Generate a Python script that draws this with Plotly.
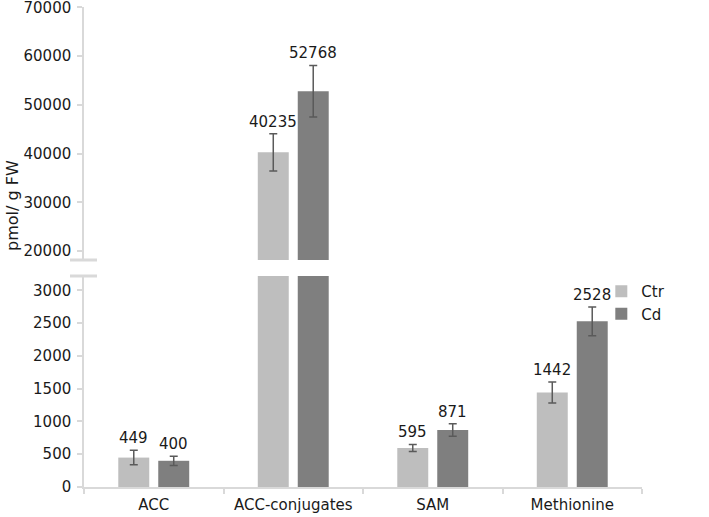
import plotly.graph_objects as go

categories = ["ACC", "ACC-conjugates", "SAM", "Methionine"]
ctr_values = [449, 40235, 595, 1442]
cd_values = [400, 52768, 871, 2528]
ctr_err = [110, 3800, 55, 160]
cd_err = [70, 5300, 95, 220]
series_names = ["Ctr", "Cd"]
lower_ticks = [0, 500, 1000, 1500, 2000, 2500, 3000]
upper_ticks = [20000, 30000, 40000, 50000, 60000, 70000]
upper_cats = ["ACC-conjugates"]

C_CTR = "#BEBEBE"
C_CD = "#7F7F7F"
C_ERR = "#5A5A5A"
C_AX = "#D9D9D9"
FONT = "DejaVu Sans"
TXT = "#1a1a1a"

fig = go.Figure()
series = [(series_names[0], ctr_values, ctr_err, C_CTR), (series_names[1], cd_values, cd_err, C_CD)]
for name, vals, errs, col in series:
    for yax, show in (("y", True), ("y2", False)):
        fig.add_trace(go.Bar(
            x=categories, y=vals, name=name, marker_color=col, marker_line_width=0,
            error_y=dict(type="data", array=errs, visible=True, color=C_ERR, thickness=1.5, width=4),
            xaxis="x", yaxis=yax, showlegend=show, legendgroup=name, offsetgroup=name,
        ))

# value labels above the error bars
for i, (name, vals, errs, col) in enumerate(series):
    shift = -20 if i == 0 else 20
    for cat, v, e in zip(categories, vals, errs):
        fig.add_annotation(
            x=cat, y=v + e, xref="x", yref="y2" if cat in upper_cats else "y",
            text=str(v), showarrow=False, yanchor="bottom", xshift=shift, yshift=1,
            font=dict(family=FONT, size=15, color=TXT),
        )

H_PLOT = 480.0
low_top = (487 - 276) / H_PLOT
up_bot = (487 - 260) / H_PLOT

axis_common = dict(showline=True, linecolor=C_AX, linewidth=1.5, ticks="outside",
                   ticklen=5, tickcolor=C_AX, tickwidth=1.5, showgrid=False, zeroline=False,
                   ticklabeloverflow="allow", automargin=False,
                   tickfont=dict(family=FONT, size=15, color=TXT))

fig.update_layout(
    width=709, height=517,
    margin=dict(l=84, r=67, t=7, b=30),
    paper_bgcolor="white", plot_bgcolor="white",
    barmode="group", bargap=0.427, bargroupgap=0.225,
    xaxis=dict(type="category", categoryorder="array", categoryarray=categories,
               tickson="boundaries", anchor="y", ticklabelstandoff=3, **axis_common),
    yaxis=dict(domain=[0, low_top], range=[0, 3220], tickvals=lower_ticks, tickformat="d",
               anchor="x", ticklabelstandoff=3, **axis_common),
    yaxis2=dict(domain=[up_bot, 1], range=[18150, 70060], tickvals=upper_ticks, tickformat="d",
                anchor="x", ticklabelstandoff=3, **axis_common),
    legend=dict(x=(0.945 * 558 - 10) / 558, y=(487 - 275) / H_PLOT, xanchor="left", yanchor="top",
                font=dict(family=FONT, size=15, color=TXT), bgcolor="rgba(0,0,0,0)",
                itemwidth=30, tracegroupgap=0),
    showlegend=True,
)

# y axis title
fig.add_annotation(text="pmol/ g FW", xref="paper", yref="paper",
                   x=(12 - 84) / 558.0, y=(487 - 206) / H_PLOT, textangle=-90,
                   showarrow=False, xanchor="center", yanchor="middle",
                   font=dict(family=FONT, size=16, color=TXT))

# axis break marks
for yref_val in [("y2 domain", 0), ("y domain", 1)]:
    fig.add_shape(type="line", xref="paper", yref=yref_val[0],
                  x0=(70 - 84) / 558.0, x1=(97 - 84) / 558.0, y0=yref_val[1], y1=yref_val[1],
                  line=dict(color=C_AX, width=3))

fig.write_html("out.html", config={"displayModeBar": False},
               post_script="document.body.style.margin='0';")
